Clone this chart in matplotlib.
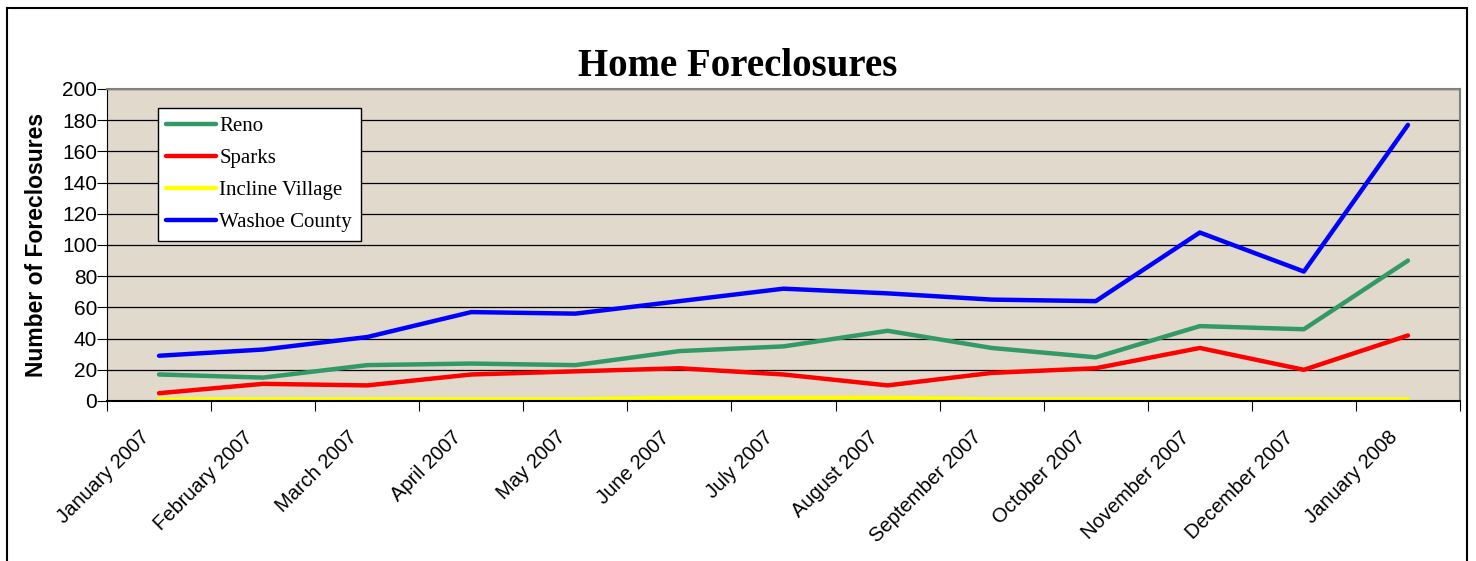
import matplotlib.pyplot as plt
from matplotlib.patches import Rectangle
from matplotlib.transforms import ScaledTranslation

# Monthly foreclosure counts
months = ['January 2007', 'February 2007', 'March 2007', 'April 2007', 'May 2007',
          'June 2007', 'July 2007', 'August 2007', 'September 2007', 'October 2007',
          'November 2007', 'December 2007', 'January 2008']
reno = [17, 15, 23, 24, 23, 32, 35, 45, 34, 28, 48, 46, 90]
sparks = [5, 11, 10, 17, 19, 21, 17, 10, 18, 21, 34, 20, 42]
incline = [1, 1, 1, 1, 1, 2, 2, 2, 1, 1, 1, 1, 1]
washoe = [29, 33, 41, 57, 56, 64, 72, 69, 65, 64, 108, 83, 177]

series = [('Reno', reno, '#339966'),
          ('Sparks', sparks, '#ff0000'),
          ('Incline Village', incline, '#ffff00'),
          ('Washoe County', washoe, '#0000ff')]

fig = plt.figure(figsize=(14.76, 5.61), dpi=100)

# outer frame around the chart (bottom edge runs off the picture)
fig.patches.append(Rectangle((7 / 1476, -0.05), 1460 / 1476, 1.05 - 8 / 561,
                             transform=fig.transFigure, fill=False,
                             edgecolor='black', linewidth=1.5))

ax = fig.add_axes([107 / 1476, 160 / 561, 1353 / 1476, 312 / 561])
ax.set_facecolor('#e0d9cc')

x = list(range(len(months)))
for name, vals, color in series:
    ax.plot(x, vals, color=color, linewidth=3.2, label=name, solid_capstyle='round')

ax.set_xlim(-0.5, len(months) - 0.5)
ax.set_ylim(0, 200)
ax.set_yticks(range(0, 201, 20))
ax.yaxis.grid(True, color='black', linewidth=0.9)
ax.set_axisbelow(True)

# category ticks at boundaries, labels at centres
ax.set_xticks([i - 0.5 for i in range(len(months) + 1)])
ax.set_xticklabels([])
ax.set_xticks(x, minor=True)
ax.set_xticklabels(months, minor=True, rotation=45, ha='right', va='center',
                   rotation_mode='anchor', fontsize=14.5, family='Liberation Sans')
ax.tick_params(axis='x', which='minor', length=0, pad=24)
ax.tick_params(axis='x', which='major', length=7, direction='out', color='black')
shift = ScaledTranslation(-13 / 100, 0, fig.dpi_scale_trans)
for lab in ax.get_xticklabels(minor=True):
    lab.set_transform(lab.get_transform() + shift)

ax.tick_params(axis='y', length=7, direction='out', labelsize=15, pad=0)
for lab in ax.get_yticklabels():
    lab.set_family('Liberation Sans')

for side in ('top', 'right'):
    ax.spines[side].set_color('#808080')
    ax.spines[side].set_linewidth(1.5)
ax.spines['left'].set_color('black')
ax.spines['bottom'].set_color('black')
ax.spines['bottom'].set_linewidth(1.5)

ax.set_ylabel('Number of Foreclosures', fontsize=16.5, fontweight='bold',
              family='Liberation Sans', labelpad=10)

fig.text(0.5, 0.882, 'Home Foreclosures', ha='center', va='center',
         fontsize=28, fontweight='bold', family='Liberation Serif')

leg = ax.legend(loc='upper left', bbox_to_anchor=(0.0377, 0.939), borderaxespad=0,
                prop={'family': 'Liberation Serif', 'size': 15}, fancybox=False,
                framealpha=1, edgecolor='black', handlelength=2.4,
                handletextpad=0.15, labelspacing=0.6, borderpad=0.4)
leg.get_frame().set_linewidth(1.0)

fig.savefig('out.png', dpi=100)
